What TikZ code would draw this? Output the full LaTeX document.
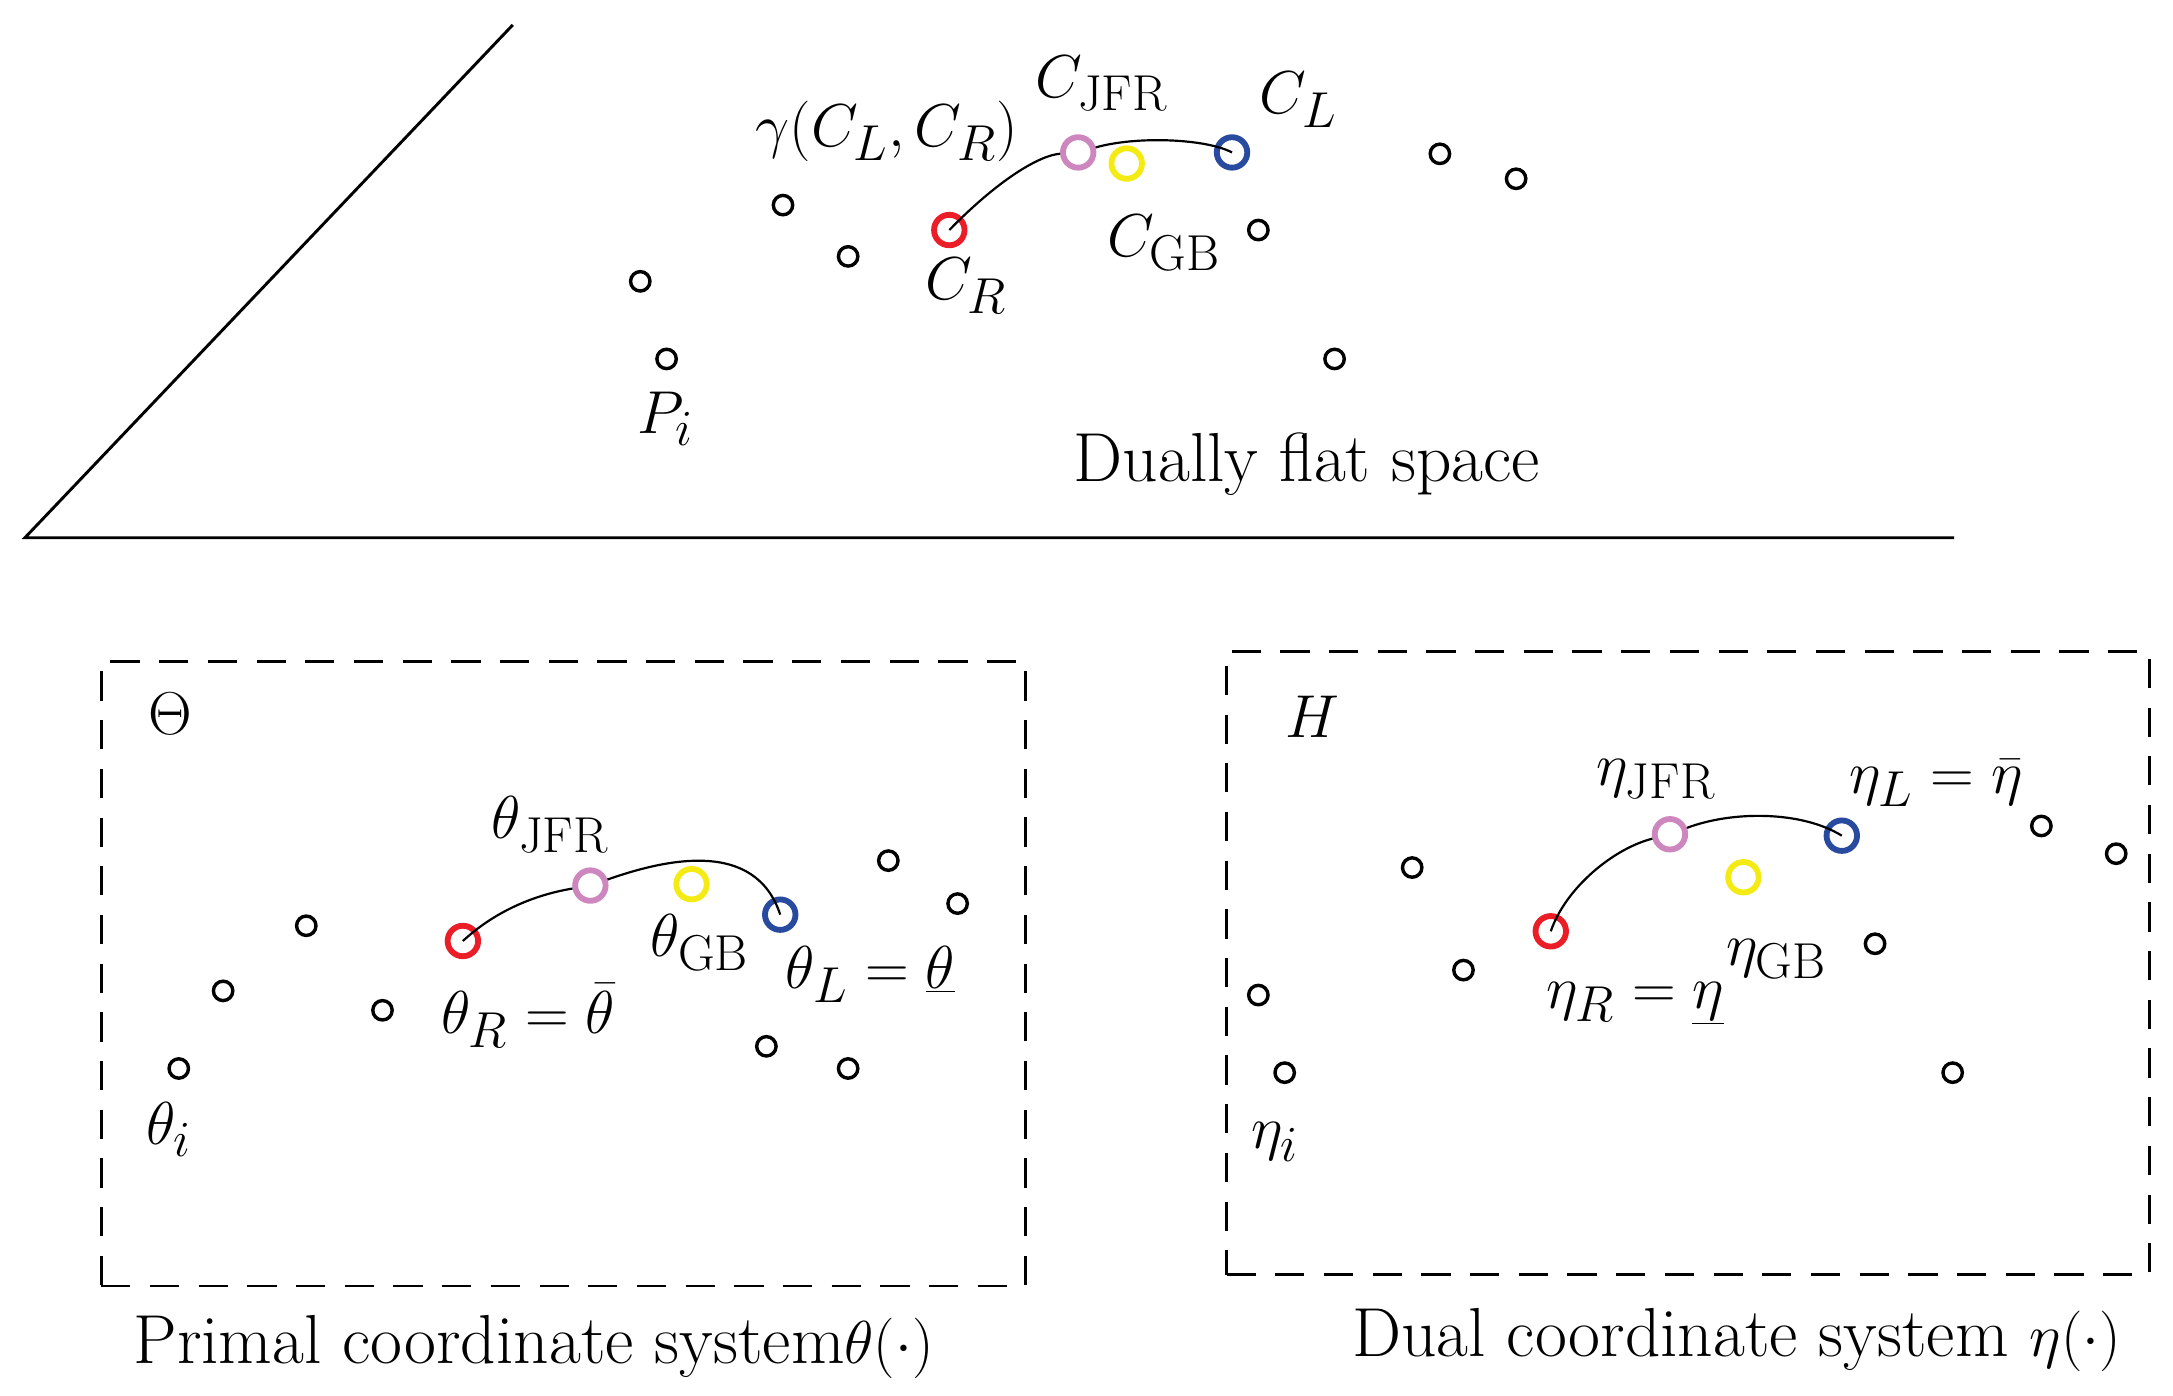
\documentclass[tikz,border=0pt]{standalone}
\begin{document}
\begin{tikzpicture}[x=0.02cm,y=-0.02cm,
 sm/.style={circle,draw=black,line width=1.4pt,minimum size=0.28cm,inner sep=0pt},
 bg/.style={circle,draw=#1,line width=2.4pt,minimum size=0.44cm,inner sep=0pt},
 lb/.style={font=\fontsize{28.5}{34}\selectfont,inner sep=0pt}]
\definecolor{cr}{RGB}{235,30,40}\definecolor{cp}{RGB}{205,135,190}
\definecolor{cy}{RGB}{245,235,20}\definecolor{cb}{RGB}{40,75,160}
\useasboundingbox (0,0) rectangle (1568,1007);
% top
\coordinate (t1) at (370,18);\coordinate (t2) at (18,388);\coordinate (t3) at (1410,388);
\draw[line width=1.2pt] (t1)--(t2)--(t3);
\foreach \n/\p in {a/{565,148},b/{612,185},c/{462,203},d/{481,259},e/{908,166},f/{963,259},g/{1039,111},h/{1094,129}}
 \node[sm] (u\n) at (\p) {};
\node[bg=cr] (uR) at (685,166) {};
\node[bg=cp] (uJ) at (778,110) {};
\node[bg=cy] (uG) at (813,118) {};
\node[bg=cb] (uL) at (889,110) {};
\draw[line width=0.9pt] (uR.center) .. controls (720,130) and (750,112) .. (uJ) .. controls (820,98) and (870,100) .. (uL.center);
\node[lb] (l1) at (640,95) {$\gamma(C_L,C_R)$};
\node[lb] (l2) at (795,60) {$C_{\rm JFR}$};
\node[lb] (l3) at (937,72) {$C_L$};
\node[lb] (l4) at (840,175) {$C_{\rm GB}$};
\node[lb] (l5) at (697,206) {$C_R$};
\node[lb] (l6) at (480,302) {$P_i$};
\node[lb] (l7) at (943,335) {Dually flat space};
% left box
\node[draw,dashed,line width=1.2pt,dash pattern=on 12pt off 8pt,minimum width=13.34cm,minimum height=9.02cm] (B1) at (406.5,702.5) {};
\node[lb] (th) at (123,515) {$\Theta$};
\foreach \n/\p in {a/{129,771},b/{161,715},c/{221,668},d/{276,729},e/{553,755},f/{612,771},g/{641,621},h/{691,652}}
 \node[sm] (p\n) at (\p) {};
\node[bg=cr] (pR) at (334,679) {};
\node[bg=cp] (pJ) at (426,639) {};
\node[bg=cy] (pG) at (499,638) {};
\node[bg=cb] (pL) at (563,660) {};
\draw[line width=0.9pt] (pR.center) .. controls (360,655) and (390,645) .. (pJ) .. controls (480,620) and (545,605) .. (pL.center);
\node[lb] at (397,595) {$\theta_{\rm JFR}$};
\node[lb] at (505,680) {$\theta_{\rm GB}$};
\node[lb] at (628,703) {$\theta_L=\underline{\theta}$};
\node[lb] at (381,733) {$\theta_R=\bar{\theta}$};
\node[lb] at (122,815) {$\theta_i$};
\node[lb] at (385,972) {Primal coordinate system$\theta(\cdot)$};
% right box
\node[draw,dashed,line width=1.2pt,dash pattern=on 12pt off 8pt,minimum width=13.32cm,minimum height=9cm] (B2) at (1218,695) {};
\node[lb] at (947,517) {$H$};
\foreach \n/\p in {a/{908,718},b/{927,774},c/{1019,626},d/{1056,700},e/{1353,681},f/{1409,774},g/{1473,596},h/{1527,616}}
 \node[sm] (q\n) at (\p) {};
\node[bg=cr] (qR) at (1119,672) {};
\node[bg=cp] (qJ) at (1205,602) {};
\node[bg=cy] (qG) at (1258,633) {};
\node[bg=cb] (qL) at (1329,603) {};
\draw[line width=0.9pt] (qR.center) .. controls (1130,640) and (1165,612) .. (qJ) .. controls (1250,585) and (1300,585) .. (qL.center);
\node[lb] at (1195,562) {$\eta_{\rm JFR}$};
\node[lb] at (1397,565) {$\eta_L=\bar{\eta}$};
\node[lb] at (1282,692) {$\eta_{\rm GB}$};
\node[lb] at (1180,724) {$\eta_R=\underline{\eta}$};
\node[lb] at (920,824) {$\eta_i$};
\node[lb] at (1253,967) {Dual coordinate system $\eta(\cdot)$};
\end{tikzpicture}
\end{document}
